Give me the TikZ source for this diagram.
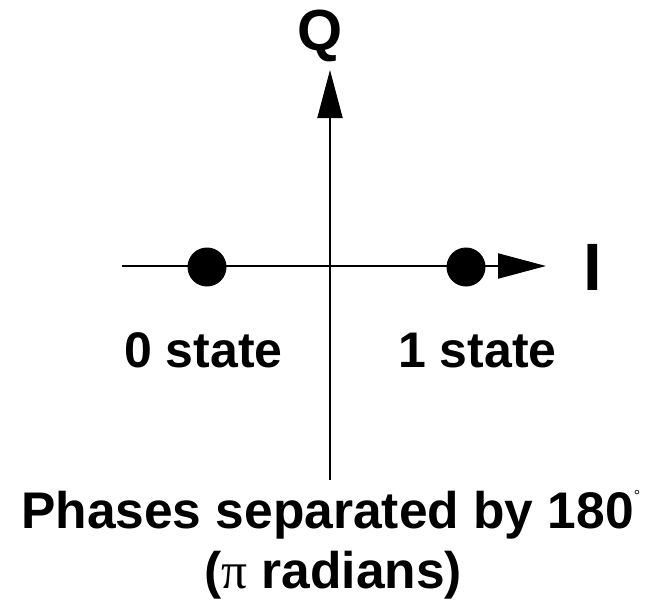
\documentclass[tikz,border=0pt]{standalone}
\usepackage{fontspec}
\setmainfont{Liberation Sans}
\newfontfamily\serifpi{Liberation Serif}
\usetikzlibrary{arrows.meta}
\tikzset{
  axis/.style={line width=2pt, -{Triangle[length=48pt,width=25pt]}},
  statedot/.style={circle, fill=black, minimum size=39pt, inner sep=0pt},
  lbl/.style={inner sep=0pt, font=\fontsize{50}{60}\selectfont\bfseries},
  biglbl/.style={inner sep=0pt, font=\fontsize{51.5}{60}\selectfont\bfseries},
}
\begin{document}
\begin{tikzpicture}[x=1pt,y=-1pt]
\useasboundingbox[fill=white] (0,0) rectangle (651,600);
\coordinate (ileft) at (122,266);
\coordinate (iright) at (546,266);
\coordinate (qbot) at (330,480);
\coordinate (qtop) at (330,70);
\draw[axis] (ileft) -- (iright);
\draw[axis] (qbot) -- (qtop);
\node[statedot] (zero) at (207,267) {};
\node[statedot] (one) at (466,267) {};
\node[lbl, anchor=base] (qlab) at (320,50) {\fontsize{58}{60}\selectfont Q};
\node[lbl, anchor=base west] (ilab) at (583,290) {\fontsize{67}{70}\selectfont I};
\node[lbl, anchor=base] (zlab) at (203.5,367) {0 state};
\node[lbl, anchor=base] (olab) at (477.5,367) {1 state};
\node[biglbl, anchor=base west] (phase) at (21,528) {Phases separated by 180\raisebox{27pt}{\fontsize{16}{16}\selectfont\mdseries °}};
\node[biglbl, anchor=base west] (rad) at (204,588) {({\serifpi\mdseries π} radians)};
\end{tikzpicture}
\end{document}
